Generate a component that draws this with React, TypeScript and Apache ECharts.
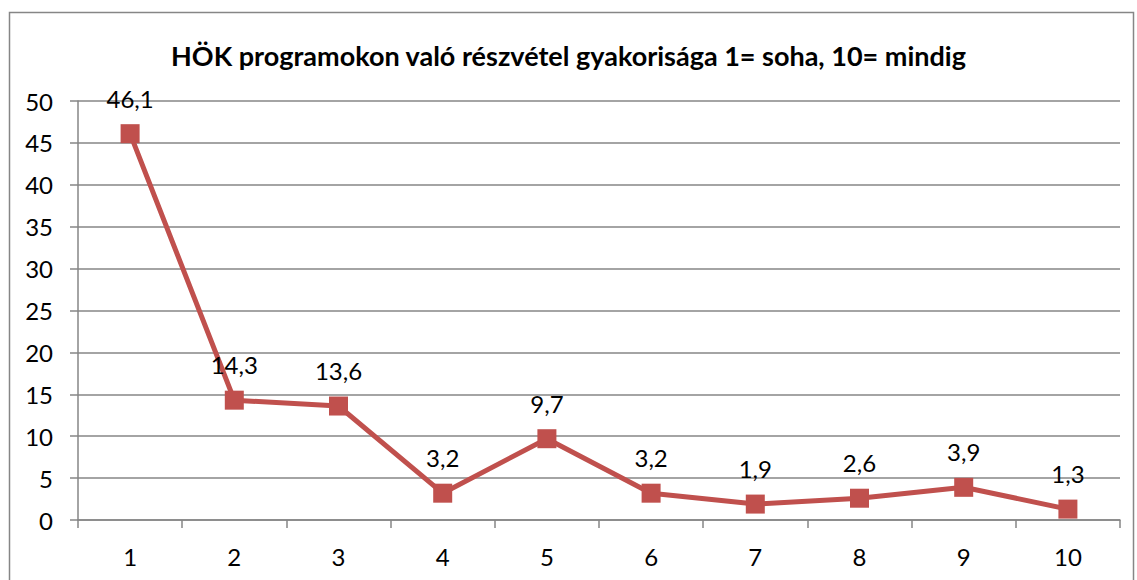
import React, { useEffect, useRef } from "react";
import * as echarts from "echarts";

const title = "HÖK programokon való részvétel gyakorisága 1= soha, 10= mindig";
const categories = ["1", "2", "3", "4", "5", "6", "7", "8", "9", "10"];
const values = [46.1, 14.3, 13.6, 3.2, 9.7, 3.2, 1.9, 2.6, 3.9, 1.3];
const yMin = 0;
const yMax = 50;
const yInterval = 5;

const FONT = "Lato, 'Open Sans', sans-serif";

export default function App() {
  const ref = useRef<HTMLDivElement>(null);
  useEffect(() => {
    if (!ref.current) return;
    const chart = echarts.init(ref.current, null, { renderer: "svg" });
    chart.setOption({
      animation: false,
      backgroundColor: "#ffffff",
      textStyle: { fontFamily: FONT },
      title: {
        text: title,
        left: "center",
        top: 37,
        textStyle: { fontFamily: FONT, fontSize: 27, fontWeight: "bold", color: "#000" },
      },
      graphic: [
        {
          type: "rect",
          shape: { x: 9.5, y: 12.5, width: 1124, height: 600 },
          style: { fill: "none", stroke: "#868686", lineWidth: 1.5 },
          silent: true,
        },
      ],
      grid: { left: 78, right: 17, top: 101, bottom: 60, containLabel: false },
      xAxis: {
        type: "category",
        data: categories,
        boundaryGap: true,
        axisLine: { lineStyle: { color: "#868686", width: 1.5 } },
        axisTick: { show: true, length: 8, alignWithLabel: false, lineStyle: { color: "#868686", width: 1.5 } },
        axisLabel: { fontFamily: FONT, fontSize: 24, color: "#000", margin: 24 },
        splitLine: { show: false },
      },
      yAxis: {
        type: "value",
        min: yMin,
        max: yMax,
        interval: yInterval,
        axisLine: { show: true, lineStyle: { color: "#868686", width: 1.5 } },
        axisTick: { show: true, length: 8, lineStyle: { color: "#868686", width: 1.5 } },
        axisLabel: { fontFamily: FONT, fontSize: 24, color: "#000", margin: 25 },
        splitLine: { show: true, lineStyle: { color: "#868686", width: 1.5 } },
      },
      series: [
        {
          type: "line",
          data: values,
          symbol: "rect",
          symbolSize: 19,
          itemStyle: { color: "#C0504D" },
          lineStyle: { color: "#C0504D", width: 5 },
          label: {
            show: true,
            position: "top",
            distance: 14,
            fontFamily: FONT,
            fontSize: 24,
            color: "#000",
            formatter: (p: any) => String(p.value).replace(".", ","),
          },
        },
      ],
    });
    return () => chart.dispose();
  }, []);
  return (
    <div
      ref={ref}
      style={{ position: "absolute", left: 0, top: 0, width: 1137, height: 580 }}
    />
  );
}
